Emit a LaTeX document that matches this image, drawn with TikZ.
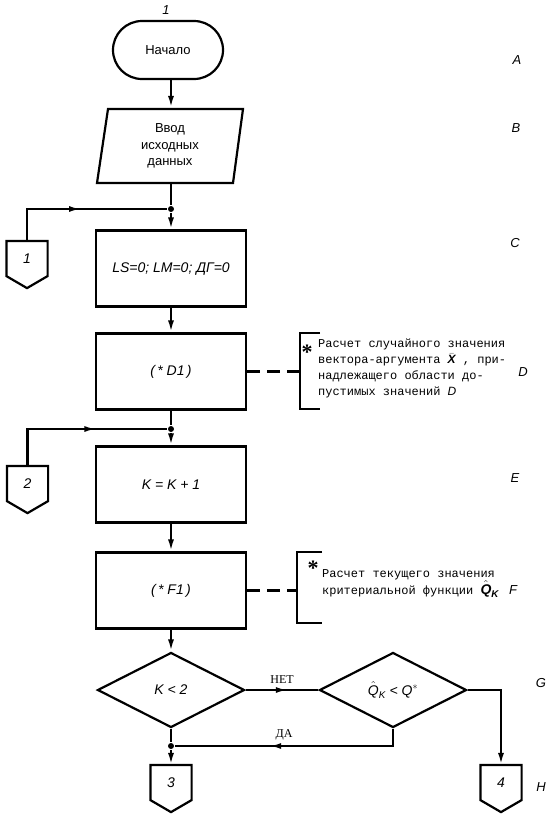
\documentclass[tikz,border=0pt]{standalone}
\usepackage{fontspec}
\usepackage{amsmath}
\setmainfont{Liberation Serif}
\setsansfont{Liberation Sans}
\setmonofont{Liberation Mono}
\usetikzlibrary{shapes.geometric,arrows.meta,decorations.markings,calc}
\newcommand\hfnt{\sffamily\itshape\fontsize{14}{16}\selectfont}
\begin{document}
\begin{tikzpicture}[x=1pt,y=-1pt,line width=2.2pt,
  procbox/.style={draw, minimum width=150pt, minimum height=76pt, font=\hfnt, inner sep=0pt},
  dec/.style={draw, diamond, aspect=1.96, minimum width=147pt, minimum height=75pt, inner sep=0pt, font=\hfnt},
  tip/.style={-{Latex[length=12pt,width=6pt]}},
  midarrow/.style={postaction={decorate}, decoration={markings, mark=at position #1 with {\arrow{Latex[length=12pt,width=6pt]}}}},
  jdot/.style={circle, fill, inner sep=0pt, minimum size=6pt},
  pg/.style={minimum width=39pt, minimum height=33pt, inner sep=0pt, font=\hfnt},
  cmt/.style={font=\ttfamily\fontsize{12}{16}\selectfont, align=left, anchor=north west, inner sep=0pt},
  side/.style={font=\sffamily\itshape\fontsize{13}{15}\selectfont},
  yn/.style={font=\fontsize{12}{14}\selectfont},
  star/.style={font=\bfseries\fontsize{22}{22}\selectfont, inner sep=0pt}
]
\fill[white] (0,0) rectangle (557,820);
\useasboundingbox (0,0) rectangle (557,820);

% start and input
\node[side] (n1) at (166,10) {1};
\node[draw, rounded corners=29pt, minimum width=110pt, minimum height=58pt, inner sep=0pt,
      font=\sffamily\fontsize{13}{15}\selectfont] (start) at (168,50) {Начало};
\node[minimum width=136pt, minimum height=74pt, inner sep=0pt, align=center,
      font=\sffamily\fontsize{13}{16.5}\selectfont] (inp) at (170,146) {Ввод\\исходных\\данных};
\draw (108,109) -- (243,109) -- (233,183) -- (97,183) -- cycle;

% spine
\node[jdot] (j1) at (171,209) {};
\node[procbox] (bc) at (171,268.5) {LS=0; LM=0; ДГ=0};
\node[procbox] (bd) at (171,371.5) {(\,* D1\,)};
\node[jdot] (j2) at (171,429) {};
\node[procbox] (be) at (171,484.5) {K = K + 1};
\node[procbox] (bf) at (171,590.5) {(\,* F1\,)};
\node[dec] (d1) at (171,690) {K < 2};
\node[dec] (d2) at (393,690) {$\hat{\text{Q}}_{\text{K}}$ < Q$^{*}$};
\node[jdot] (j3) at (171,746) {};

% off-page connectors
\node[pg] (c1) at (27,258.5) {1};
\node[pg] (c2) at (27.5,483.5) {2};
\node[pg] (c3) at (171,782.5) {3};
\node[pg] (c4) at (501,782.5) {4};
\foreach \c in {c1,c2,c3,c4}
  \draw (\c.north west) -- (\c.north east) -- (\c.south east) -- ([yshift=-12pt]\c.south) -- (\c.south west) -- cycle;

% comments
\coordinate (bkD) at (300,371.5);
\draw (320,333) -- (300,333) -- (300,409) -- (320,409);
\draw[dash pattern=on 13pt off 7pt] (bd.east) -- (bkD);
\node[star] (st1) at (307,352) {*};
\node[cmt] (cd) at (317,338) {Расчет случайного значения\\вектора-аргумента $\bar{\text{\sffamily\itshape\bfseries X}}$ , при-\\надлежащего области до-\\пустимых значений {\sffamily\itshape D}};

\coordinate (bkF) at (297,590.5);
\draw (322,552) -- (297,552) -- (297,623) -- (322,623);
\draw[dash pattern=on 13pt off 7pt] (bf.east) -- (bkF);
\node[star] (st2) at (313,568) {*};
\node[cmt] (cf) at (321,568) {Расчет текущего значения\\критериальной функции {\sffamily\itshape\bfseries\fontsize{14}{16}\selectfont $\hat{\text{Q}}_{\text{K}}$}};

% side letters
\node[side] (la) at (517,60) {A};
\node[side] (lb) at (516,128) {B};
\node[side] (lc) at (515,243) {C};
\node[side] (ld) at (523,372) {D};
\node[side] (le) at (515,478) {E};
\node[side] (lf) at (513,590) {F};
\node[side] (lg) at (541,683) {G};
\node[side] (lh) at (541,787) {H};

% connectors
\draw[tip] (start.south -| j1) -- (inp.north -| j1);
\draw (inp.south -| j1) -- (j1);
\draw[tip] (j1) -- (bc);
\draw[midarrow=0.5] (c1.north) |- (j1);
\draw[tip] (bc) -- (bd);
\draw (bd) -- (j2);
\draw[tip] (j2) -- (be);
\draw[midarrow=0.6] (c2.north) |- (j2);
\draw[tip] (be) -- (bf);
\draw[tip] (bf) -- (d1);
\draw[midarrow=0.58] (d1.east) -- (d2.west) node[midway, above=2pt, yn] {НЕТ};
\draw[midarrow=0.6] (d2.south) |- (j3) node[pos=0.75, above=2pt, yn] {ДА};
\draw (d1.south) -- (j3);
\draw[tip] (j3) -- (c3.north);
\draw[tip] (d2.east) -| (c4.north);
\end{tikzpicture}
\end{document}
